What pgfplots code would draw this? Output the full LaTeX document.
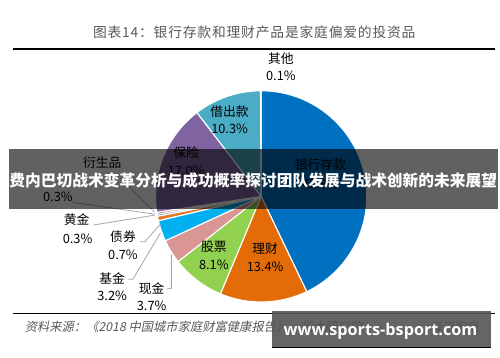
\documentclass[border=0pt]{standalone}
\usepackage{pgfplots}
\usepackage{pgfplotstable}
\pgfplotsset{compat=1.18}
\usepackage{fontspec}
\newfontfamily\cjk{Noto Sans CJK SC}
\newfontfamily\cjktitle[LetterSpace=6]{Noto Sans CJK SC}
\newfontfamily\cjkit[FakeSlant=0.2]{Noto Sans CJK SC}
\newfontfamily\wm{Open Sans}
\definecolor{pc0}{HTML}{0070C0}
\definecolor{pc1}{HTML}{E36C09}
\definecolor{pc2}{HTML}{92D050}
\definecolor{pc3}{HTML}{D99694}
\definecolor{pc4}{HTML}{00B0F0}
\definecolor{pc5}{HTML}{E07B2A}
\definecolor{pc6}{HTML}{4F81BD}
\definecolor{pc7}{HTML}{C0504D}
\definecolor{pc8}{HTML}{8064A2}
\definecolor{pc9}{HTML}{4BACC6}
\definecolor{pc10}{HTML}{D9D9D9}
\definecolor{titlegray}{HTML}{595959}
\definecolor{linegray}{HTML}{A6A6A6}

% share of household assets (%), clockwise from 12 o'clock
\pgfplotstableread[col sep=comma]{
name,value
银行存款,42.9
理财,13.4
股票,8.1
现金,3.7
基金,3.2
债券,0.7
黄金,0.3
衍生品,0.3
保险,17.0
借出款,10.3
其他,0.1
}\pietable

\begin{document}
\xdef\cum{90}
\foreach \i in {0,...,10}{%
  \pgfplotstablegetelem{\i}{value}\of\pietable
  \pgfmathsetmacro\b{\cum - \pgfplotsretval*3.6}%
  \expandafter\xdef\csname sA\i\endcsname{\cum}%
  \expandafter\xdef\csname sB\i\endcsname{\b}%
  \xdef\cum{\b}%
}
\begin{tikzpicture}
\useasboundingbox (0,0) rectangle (500bp,362bp);
\begin{axis}[x=1bp, y=1bp, xmin=0, xmax=500, ymin=0, ymax=362,
  hide axis, scale only axis, clip=false, anchor=south west, at={(0,0)}]
% pie slices
\pgfplotsinvokeforeach{0,...,10}{
  \filldraw[fill=pc#1, draw=white, line width=1.1bp, line join=round]
    (axis cs:258,163) -- ++(\csname sA#1\endcsname:107bp)
    arc[start angle=\csname sA#1\endcsname, end angle=\csname sB#1\endcsname, radius=107bp] -- cycle;
}
% title and rules
\node[font=\cjktitle\fontsize{14}{16}\selectfont, text=titlegray] at (axis cs:251,329) {图表14：银行存款和理财产品是家庭偏爱的投资品};
\draw[line width=2bp, black] (axis cs:7,312.5) -- (axis cs:495,312.5);
\draw[line width=1.2bp, black] (axis cs:7,44) -- (axis cs:495,44);
\node[anchor=west, font=\cjkit\fontsize{12.5}{14}\selectfont, text=titlegray] at (axis cs:15,31) {资料来源：《2018 中国城市家庭财富健康报告》，恒大研究院};
\node[font=\cjk\fontsize{12}{14}\selectfont, text=titlegray] at (axis cs:455,31) {泽平宏观};
% leader lines
\draw[linegray, line width=0.8bp] (axis cs:67,157) -- (axis cs:150,145);
\draw[linegray, line width=0.8bp] (axis cs:115,182) -- (axis cs:150,147);
\draw[linegray, line width=0.8bp] (axis cs:88,134) -- (axis cs:150,144);
\draw[linegray, line width=0.8bp] (axis cs:135,117) -- (axis cs:140,117) -- (axis cs:156,135);
\draw[linegray, line width=0.8bp] (axis cs:123,79) -- (axis cs:128,79) -- (axis cs:156,126);
\draw[linegray, line width=0.8bp] (axis cs:162,69) -- (axis cs:167,70) -- (axis cs:167,104);
% labels
\tikzset{lab/.style={font=\cjk\fontsize{13}{15}\selectfont, text=black}}
\node[lab] at (axis cs:278,303) {其他};
\node[lab] at (axis cs:278,285) {0.1\%};
\node[lab] at (axis cs:226,249) {借出款};
\node[lab] at (axis cs:226,231) {10.3\%};
\node[lab] at (axis cs:182,207) {保险};
\node[lab] at (axis cs:182,189) {17.0\%};
\node[lab] at (axis cs:318,195) {银行存款};
\node[lab] at (axis cs:318,176) {42.9\%};
\node[lab] at (axis cs:262,110) {理财};
\node[lab] at (axis cs:262,92) {13.4\%};
\node[lab] at (axis cs:210,112) {股票};
\node[lab] at (axis cs:210,94) {8.1\%};
\node[lab] at (axis cs:147,70) {现金};
\node[lab] at (axis cs:147,52) {3.7\%};
\node[lab] at (axis cs:107,80) {基金};
\node[lab] at (axis cs:107,62) {3.2\%};
\node[lab] at (axis cs:118,122) {债券};
\node[lab] at (axis cs:118,104) {0.7\%};
\node[lab] at (axis cs:71,139) {黄金};
\node[lab] at (axis cs:72,120) {0.3\%};
\node[lab] at (axis cs:97,197) {衍生品};
\node[lab] at (axis cs:52,163) {0.3\%};
% overlay banner
\fill[black, opacity=0.62] (axis cs:2,150) rectangle (axis cs:498,211);
\node[font=\cjk\bfseries\fontsize{16}{18}\selectfont, text=white, inner sep=0pt] at (axis cs:250,179) {费内巴切战术变革分析与成功概率探讨团队发展与战术创新的未来展望};
% watermark
\fill[black!67, opacity=0.9] (axis cs:269,10) rectangle (axis cs:491,47);
\draw[black, line width=1.5bp] (axis cs:269,10) -- (axis cs:491,10);
\node[font=\wm\bfseries\fontsize{16.5}{18}\selectfont, text=white, inner sep=0pt] at (axis cs:379,26) {www.sports-bsport.com};
\end{axis}
\end{tikzpicture}
\end{document}
